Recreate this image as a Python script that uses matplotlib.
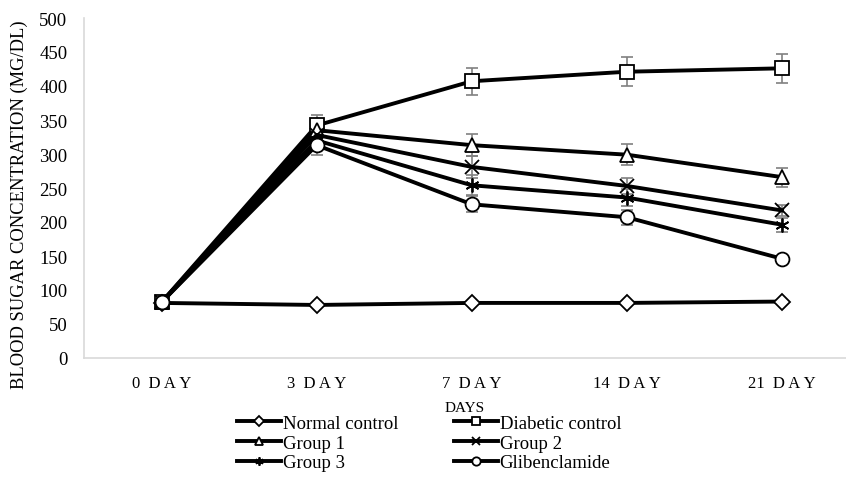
import numpy as np
import matplotlib
matplotlib.use('Agg')
import matplotlib.pyplot as plt

plt.rcParams['font.family'] = ['Liberation Serif', 'DejaVu Serif']

days = ['0 DAY', '3 DAY', '7 DAY', '14 DAY', '21 DAY']

normal_control = [81, 78, 81, 81, 83]
diabetic_control = [82, 342, 407, 421, 426]
group_1 = [82, 335, 313, 299, 266]
group_2 = [82, 328, 281, 253, 217]
group_3 = [82, 320, 254, 236, 196]
glibenclamide = [82, 313, 226, 207, 146]

normal_err = [4, 3, 3, 3, 3]
diabetic_err = [6, 16, 20, 21, 21]
group_1_err = [6, 15, 16, 15, 14]
group_2_err = [6, 14, 16, 12, 8]
group_3_err = [6, 14, 15, 12, 10]
glib_err = [6, 15, 12, 11, 3]

series = [
    ('Normal control', normal_control, normal_err, 'D', 8),
    ('Diabetic control', diabetic_control, diabetic_err, 's', 10),
    ('Group 1', group_1, group_1_err, '^', 10),
    ('Group 2', group_2, group_2_err, 'x', 10),
    ('Group 3', group_3, group_3_err, (6, 2, 0), 10),
    ('Glibenclamide', glibenclamide, glib_err, 'o', 10),
]

fig = plt.figure(figsize=(8.46, 4.81), dpi=100)
ax = fig.add_axes([84 / 846, 122 / 481, 775.5 / 846, 340 / 481])

x = np.arange(len(days))
handles = []
for name, vals, err, mk, ms in series:
    ax.errorbar(x, vals, yerr=err, fmt='none', ecolor='#808080',
                elinewidth=1.2, capsize=4, capthick=1.2, zorder=2)
    face = 'white' if mk not in ('x', (6, 2, 0)) else 'black'
    h, = ax.plot(x, vals, color='black', lw=2.8, marker=mk, markersize=ms,
                 markerfacecolor=face, markeredgecolor='black',
                 markeredgewidth=1.3, label=name, zorder=3)
    handles.append(h)

ax.set_xlim(-0.5, 4.5)
ax.set_ylim(0, 500)
ax.set_yticks(range(0, 501, 50))
ax.set_xticks(x)
ax.set_xticklabels([d.replace('DAY', 'D\u2009A\u2009Y').replace(' D', '  D') for d in days])
ax.tick_params(axis='y', length=0, labelsize=13.5, pad=12)
ax.tick_params(axis='x', length=0, labelsize=12, pad=12)
for s in ['top', 'right']:
    ax.spines[s].set_visible(False)
for s in ['left', 'bottom']:
    ax.spines[s].set_color('#d9d9d9')
    ax.spines[s].set_linewidth(1.2)

ax.set_ylabel('BLOOD SUGAR CONCENTRATION (MG/DL)', fontsize=13.3)
ax.yaxis.set_label_coords(-56 / 775.5, 0.455)
fig.text(465 / 846, 1 - 408 / 481, 'DAYS', ha='center', va='center', fontsize=11)

order = [0, 2, 4, 1, 3, 5]
leg = fig.legend([handles[i] for i in order], [series[i][0] for i in order],
                 ncol=2, loc='center', bbox_to_anchor=(429 / 846, 1 - 444 / 481),
                 frameon=False, fontsize=13.5, handlelength=2.35, handletextpad=0.1,
                 columnspacing=2.95, labelspacing=0.15, markerscale=0.6,
                 borderpad=0.2)

fig.savefig('out.png', dpi=100)
